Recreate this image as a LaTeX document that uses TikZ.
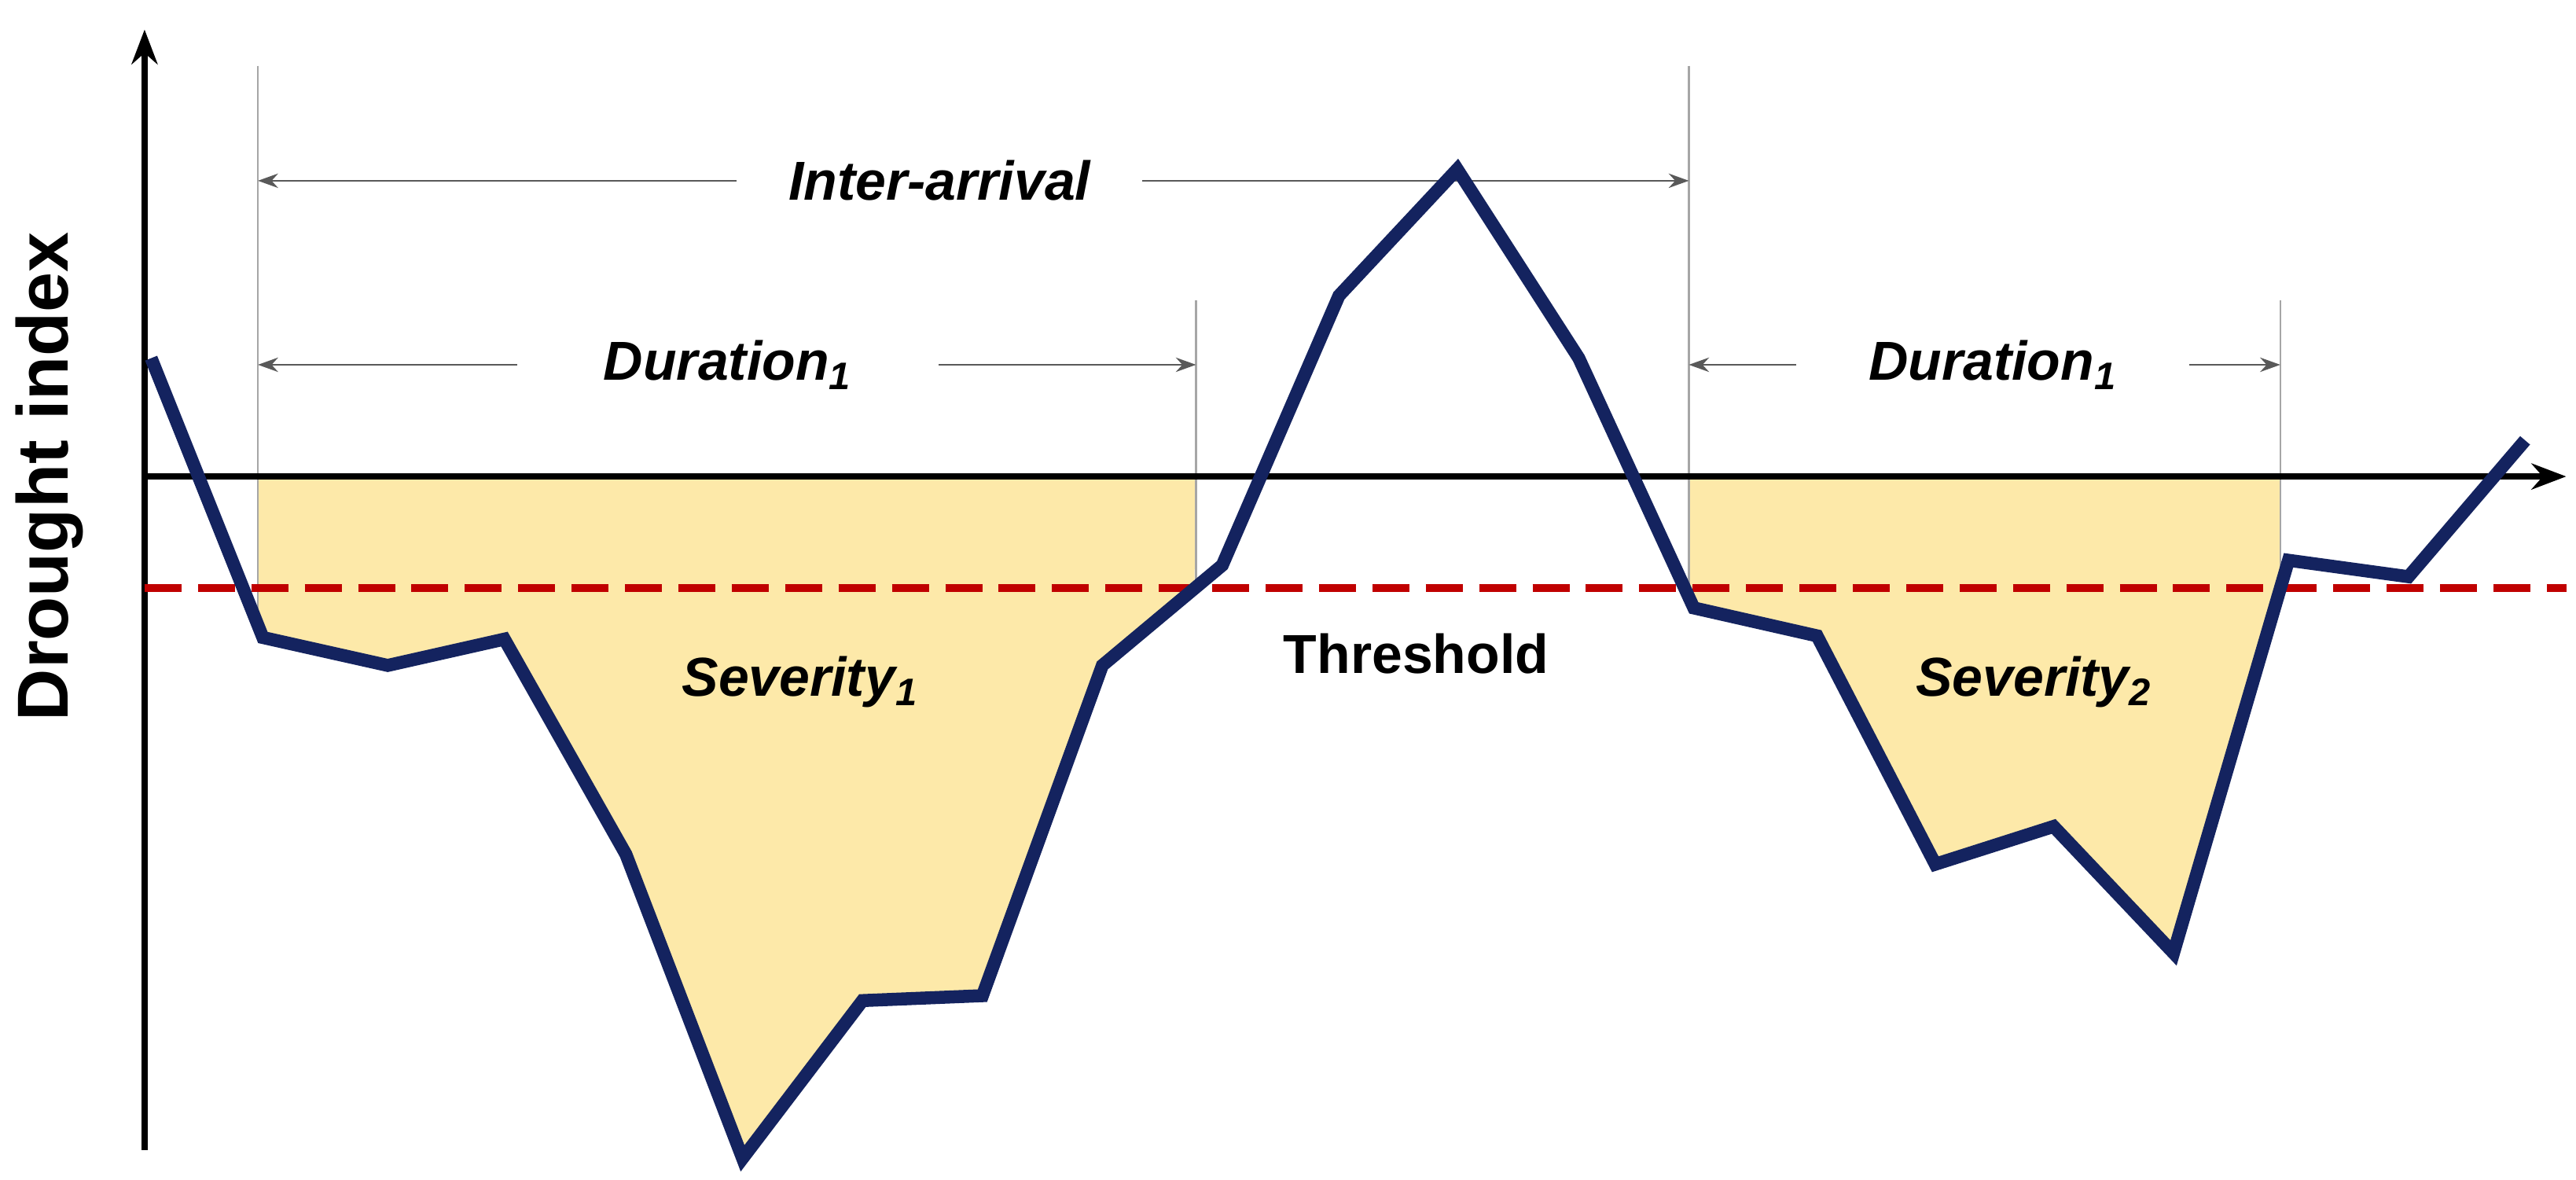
\documentclass[tikz,border=0pt]{standalone}
\usepackage{fontspec}
\setmainfont{Liberation Sans}
\usetikzlibrary{arrows.meta}
\begin{document}
\begin{tikzpicture}[x=0.02cm,y=-0.02cm,
  lbl/.style={font=\fontsize{19}{22}\selectfont\bfseries\itshape, fill=white, inner sep=4pt},
  dim/.style={gray!70!black, line width=0.6pt, {Stealth[length=7pt,width=5pt]}-{Stealth[length=7pt,width=5pt]}},
  guide/.style={gray!70, line width=0.6pt},
  curve/.style={line width=4.5pt, color={rgb,255:red,20;green,35;blue,95}, line join=miter},
  thr/.style={line width=2.8pt, color={rgb,255:red,192;green,0;blue,0}, dash pattern=on 0.45cm off 0.2cm},
  ax/.style={line width=2pt, -{Stealth[length=12pt,width=9pt]}}]
\useasboundingbox (0,0) rectangle (1568,718);
\definecolor{sevfill}{RGB}{253,233,169}
\fill[sevfill] (157,290)--(728,290)--(727,358)--(671,405)--(598,606)--(525,609)--(452,705)--(381,520)--(307,389)--(236,405)--(160,388)--(157,380)--cycle;
\fill[sevfill] (1028,290)--(1388,290)--(1388,358)--(1323,580)--(1250,503)--(1178,526)--(1106,387)--(1031,370)--(1028,365)--cycle;
\coordinate (g1t) at (157,40); \coordinate (g1b) at (157,385);
\coordinate (g2t) at (728,183); \coordinate (g2b) at (728,358);
\coordinate (g3t) at (1028,40); \coordinate (g3b) at (1028,365);
\coordinate (g4t) at (1388,183); \coordinate (g4b) at (1388,358);
\draw[guide] (g1t)--(g1b); \draw[guide] (g2t)--(g2b); \draw[guide] (g3t)--(g3b); \draw[guide] (g4t)--(g4b);
\coordinate (ia1) at (157,110); \coordinate (ia2) at (1028,110);
\coordinate (d1a) at (157,222); \coordinate (d1b) at (728,222);
\coordinate (d2a) at (1028,222); \coordinate (d2b) at (1388,222);
\draw[dim] (ia1)--(ia2); \draw[dim] (d1a)--(d1b); \draw[dim] (d2a)--(d2b);
\node[lbl, inner xsep=18pt] (ia) at (572,110) {Inter-arrival};
\node[lbl, inner xsep=30pt] (du1) at (443,222) {Duration\textsubscript{1}};
\node[lbl, inner xsep=25pt] (du2) at (1213,222) {Duration\textsubscript{1}};
\coordinate (o) at (88,700); \coordinate (yt) at (88,18);
\coordinate (x0) at (88,290); \coordinate (xe) at (1562,290);
\draw[ax] (o)--(yt);
\draw[ax] (x0)--(xe);
\coordinate (t0) at (88,358); \coordinate (t1) at (1562,358);
\draw[thr] (t0)--(t1);
\draw[curve] (92,218)--(160,388)--(236,405)--(307,389)--(381,520)--(452,705)--(525,609)--(598,606)--(671,405)--(744,344)--(815,180)--(887,103)--(961,218)--(1031,370)--(1106,387)--(1178,526)--(1250,503)--(1323,580)--(1393,341)--(1466,351)--(1537,268);
\node[font=\fontsize{19}{22}\selectfont\bfseries\itshape] (s1) at (487,415) {Severity\textsubscript{1}};
\node[font=\fontsize{19}{22}\selectfont\bfseries\itshape] (s2) at (1238,415) {Severity\textsubscript{2}};
\node[font=\fontsize{19}{22}\selectfont\bfseries] (th) at (862,398) {Threshold};
\node[font=\fontsize{25}{30}\selectfont\bfseries, rotate=90] (yl) at (30,290) {Drought index};
\end{tikzpicture}
\end{document}
